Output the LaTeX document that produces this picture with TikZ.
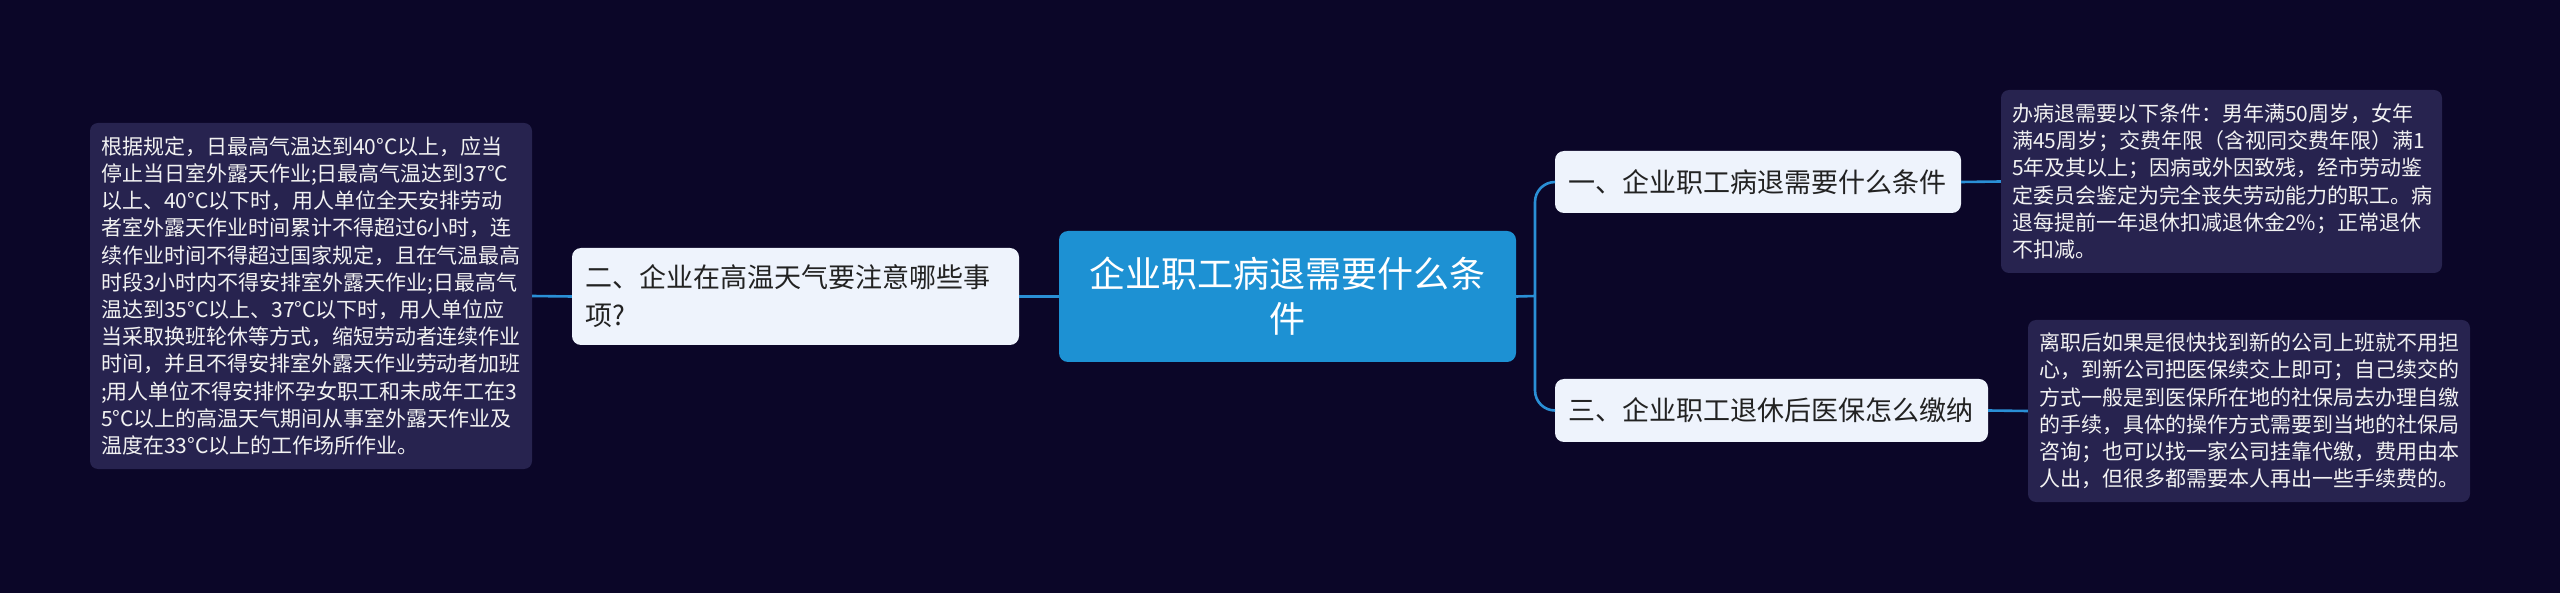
\documentclass[tikz,border=0pt]{standalone}
\usepackage{fontspec}
\setmainfont{Noto Sans CJK SC}
\definecolor{bg}{HTML}{0B0628}
\definecolor{lineblue}{HTML}{2A8FD6}
\definecolor{centerblue}{HTML}{1D91D3}
\definecolor{branchfill}{HTML}{EEF3FC}
\definecolor{detailfill}{HTML}{27234F}
\definecolor{branchtext}{HTML}{222222}
\definecolor{detailtext}{HTML}{F2F2F2}
\begin{document}
\begin{tikzpicture}[x=1pt,y=-1pt,
  conn/.style={draw=lineblue,line width=2.6pt},
  centerbox/.style={fill=centerblue,rounded corners=9pt,text=white,align=center,
    font=\fontsize{36}{45}\selectfont,inner sep=0pt},
  branchbox/.style={fill=branchfill,rounded corners=9pt,text=branchtext,align=left,
    font=\fontsize{27}{38}\selectfont,inner xsep=13pt,inner ysep=0pt,anchor=center},
  detailbox/.style={fill=detailfill,rounded corners=8pt,text=detailtext,align=left,
    font=\fontsize{21}{27.2}\selectfont,inner xsep=11pt,inner ysep=0pt}]
\fill[bg] (0,0) rectangle (2560,593);
\useasboundingbox (0,0) rectangle (2560,593);

\node[centerbox,minimum width=457pt,minimum height=131pt] (c) at (1287.5,296.5)
  {企业职工病退需要什么条\\件};

\node[branchbox,minimum width=447pt,minimum height=97pt,text width=421pt] (b2) at (795.5,296.5)
  {二、企业在高温天气要注意哪些事\\项?};
\node[branchbox,minimum width=406pt,minimum height=62pt,text width=380pt] (b1) at (1758,182)
  {一、企业职工病退需要什么条件};
\node[branchbox,minimum width=433pt,minimum height=63pt,text width=407pt] (b3) at (1771.5,410.5)
  {三、企业职工退休后医保怎么缴纳};

\node[detailbox,minimum width=442pt,minimum height=346pt,text width=420pt] (d2) at (311,296)
  {根据规定，日最高气温达到40°C以上，应当\\
   停止当日室外露天作业;日最高气温达到37°C\\
   以上、40°C以下时，用人单位全天安排劳动\\
   者室外露天作业时间累计不得超过6小时，连\\
   续作业时间不得超过国家规定，且在气温最高\\
   时段3小时内不得安排室外露天作业;日最高气\\
   温达到35°C以上、37°C以下时，用人单位应\\
   当采取换班轮休等方式，缩短劳动者连续作业\\
   时间，并且不得安排室外露天作业劳动者加班\\
   ;用人单位不得安排怀孕女职工和未成年工在3\\
   5°C以上的高温天气期间从事室外露天作业及\\
   温度在33°C以上的工作场所作业。};

\node[detailbox,minimum width=441pt,minimum height=183pt,text width=419pt] (d1) at (2221.5,181.5)
  {办病退需要以下条件：男年满50周岁，女年\\
   满45周岁；交费年限（含视同交费年限）满1\\
   5年及其以上；因病或外因致残，经市劳动鉴\\
   定委员会鉴定为完全丧失劳动能力的职工。病\\
   退每提前一年退休扣减退休金2\%；正常退休\\
   不扣减。};

\node[detailbox,minimum width=442pt,minimum height=182pt,text width=420pt] (d3) at (2249,411)
  {离职后如果是很快找到新的公司上班就不用担\\
   心，到新公司把医保续交上即可；自己续交的\\
   方式一般是到医保所在地的社保局去办理自缴\\
   的手续，具体的操作方式需要到当地的社保局\\
   咨询；也可以找一家公司挂靠代缴，费用由本\\
   人出，但很多都需要本人再出一些手续费的。};

\coordinate (bus) at (1535,296);
\path[conn] (c.east) -- (bus);
\path[conn,rounded corners=20pt] (b1.west) -| (bus);
\path[conn,rounded corners=20pt] (b3.west) -| (bus);
\path[conn] (c.west) -- (b2.east);
\path[conn] (b2.west) -- (d2.east);
\path[conn] (b1.east) -- (d1.west);
\path[conn] (b3.east) -- (d3.west);
\end{tikzpicture}
\end{document}
